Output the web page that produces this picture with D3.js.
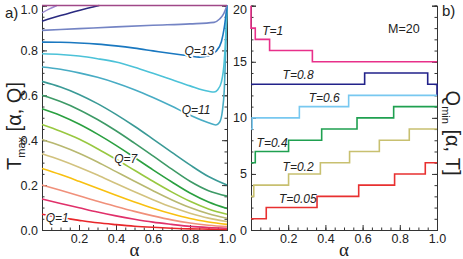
<!DOCTYPE html>
<html><head><meta charset="utf-8">
<script src="https://cdn.jsdelivr.net/npm/d3@7"></script>
<style>
body{margin:0;background:#fff;}
svg{display:block;}
text{font-family:"Liberation Sans",Arial,sans-serif;fill:#222;}
.tick text{font-family:"Liberation Sans Narrow","Liberation Sans",Arial,sans-serif;font-size:12.5px;fill:#222;}
.lbl{font-style:italic;font-size:12px;}
</style></head>
<body><svg id="c" width="463" height="259"></svg>
<script>
// ---------- DATA ----------
const alphaGrid = [0, 0.1, 0.2, 0.3, 0.4, 0.5, 0.6, 0.7, 0.8, 0.9, 1.0];
const tmaxQ1  = [0.070,0.055,0.043,0.032,0.024,0.017,0.012,0.008,0.005,0.004,0.003];
const tmaxQ2  = [0.138,0.118,0.099,0.080,0.063,0.048,0.035,0.025,0.016,0.011,0.008];
const tmaxQ3  = [0.200,0.177,0.153,0.128,0.105,0.083,0.063,0.045,0.031,0.021,0.015];
const tmaxQ4  = [0.274,0.247,0.217,0.186,0.155,0.125,0.097,0.072,0.051,0.036,0.025];
const tmaxQ5  = [0.340,0.312,0.280,0.245,0.207,0.170,0.135,0.102,0.075,0.053,0.038];
const tmaxQ6  = [0.403,0.375,0.342,0.303,0.260,0.217,0.175,0.135,0.100,0.072,0.052];
const tmaxQ7  = [0.470,0.440,0.405,0.362,0.315,0.266,0.217,0.170,0.128,0.094,0.070];
const tmaxQ8  = [0.540,0.510,0.472,0.427,0.377,0.323,0.268,0.215,0.165,0.125,0.096];
const tmaxQ9  = [0.600,0.572,0.536,0.492,0.442,0.387,0.330,0.272,0.217,0.175,0.151];
const tmaxQ10 = [0.662,0.637,0.604,0.563,0.515,0.462,0.405,0.347,0.290,0.238,0.200];
// curves with a hook near alpha = 1
const alphaQ11 = [0,0.1,0.2,0.3,0.4,0.5,0.6,0.7,0.8,0.9,0.94,0.96,0.975,0.985,0.993,1.0];
const tmaxQ11  = [0.726,0.716,0.700,0.680,0.655,0.625,0.590,0.552,0.512,0.478,0.468,0.48,0.53,0.62,0.80,1.0];
const alphaQ12 = [0,0.1,0.2,0.3,0.4,0.5,0.6,0.7,0.8,0.9,0.93,0.95,0.97,0.985,0.995,1.0];
const tmaxQ12  = [0.785,0.782,0.775,0.763,0.748,0.725,0.698,0.670,0.642,0.618,0.615,0.625,0.66,0.75,0.90,1.0];
const alphaQ13 = [0,0.1,0.2,0.3,0.4,0.5,0.6,0.7,0.8,0.85,0.9,0.94,0.97,0.985,1.0];
const tmaxQ13  = [0.837,0.836,0.833,0.828,0.820,0.810,0.798,0.786,0.775,0.770,0.776,0.795,0.84,0.90,1.0];
const alphaQ14 = [0,0.2,0.4,0.6,0.8,0.93,0.96,0.98,1.0];
const tmaxQ14  = [0.889,0.897,0.905,0.912,0.918,0.925,0.94,0.96,1.0];
const alphaQ15 = [0,0.1,0.2,0.31];
const tmaxQ15  = [0.930,0.955,0.978,1.0];
const alphaQ16 = [0,0.04,0.08];
const tmaxQ16  = [0.967,0.985,1.0];
const alphaQ17 = [0,1];
const tmaxQ17  = [1.0,1.0];
const qColors = ["#e8262a","#e0306a","#f0907a","#f8c010","#d2c27e","#b8b870","#98c840",
                 "#2aa040","#3d9a66","#3a9a96","#48acc4","#4cc2d8","#1a78c0","#7484c4",
                 "#2a2a80","#9a88d0","#a04888"];
const qLabels = [{t:"Q=1",a:0.02,v:0.035},{t:"Q=7",a:0.39,v:0.298},{t:"Q=11",a:0.755,v:0.515},{t:"Q=13",a:0.77,v:0.78}];

// right panel: step functions Q_min[alpha,T]
const tLevels = ["T=1","T=0.8","T=0.6","T=0.4","T=0.2","T=0.05"];
const stepAlphas = [
  [0,0,0.023,0.10,0.33,1],
  [0,0.611,0.95,1,1],
  [0,0.006,0.26,0.525,1],
  [0,0.023,0.202,0.38,0.57,0.767,1],
  [0,0.015,0.202,0.373,0.53,0.69,0.851,1],
  [0,0.082,0.355,0.579,0.772,0.937,1]
];
const stepQ = [
  [20,18,17,16,15,15],
  [13,14,13,13,12],
  [9,10,11,12,12],
  [6,7,8,9,10,11,11],
  [3,4,5,6,7,8,9,9],
  [1,2,3,4,5,6,6]
];
const tColors = ["#e8308a","#22228a","#78c8f0","#1fa050","#c8c070","#e83030"];
const tLabelPos = [{a:0.06,v:17.4},{a:0.17,v:13.5},{a:0.31,v:11.4},{a:0.03,v:7.4},{a:0.17,v:5.3},{a:0.15,v:2.4}];
const xTicks = [0.2,0.4,0.6,0.8,1.0];
const yTicksL = [0,0.2,0.4,0.6,0.8,1.0];
const yTicksR = [0,5,10,15,20];

// ---------- DRAW ----------
const svg = d3.select("#c");
const L = {x0:42, x1:227, y0:230, y1:5.5};
const R = {x0:251, x1:437, y0:230, y1:5.7};
const xL = d3.scaleLinear().domain([0,1]).range([L.x0,L.x1]);
const yL = d3.scaleLinear().domain([0,1]).range([L.y0,L.y1]);
const xR = d3.scaleLinear().domain([0,1]).range([R.x0,R.x1]);
const yR = d3.scaleLinear().domain([0,20]).range([R.y0,R.y1]);

const minor = (a,b,s)=>d3.range(a,b+1e-9,s).map(v=>+v.toFixed(4));

function frame(g, xs, ys, yt, ymin, yfmt, X, Y){
  g.append("g").attr("transform",`translate(0,${Y.y0})`)
    .call(d3.axisBottom(xs).tickValues(minor(0,1,0.05)).tickSize(-2.5).tickFormat(""));
  g.append("g").attr("transform",`translate(0,${Y.y0})`)
    .call(d3.axisBottom(xs).tickValues([0].concat(xTicks)).tickSize(-5).tickPadding(4)
      .tickFormat(d=>d===0?"":d3.format(".1f")(d)));
  g.append("g").attr("transform",`translate(${X.x0},0)`)
    .call(d3.axisLeft(ys).tickValues(ymin).tickSize(-2.5).tickFormat(""));
  const ya = g.append("g").attr("transform",`translate(${X.x0},0)`)
    .call(d3.axisLeft(ys).tickValues(yt).tickSize(-5).tickPadding(4).tickFormat(yfmt));
  // keep the top label inside the picture
  ya.selectAll(".tick").filter(d=>d===yt[yt.length-1]).select("text").attr("dy","0.6em");
  g.append("g").attr("transform",`translate(${X.x1},0)`)
    .call(d3.axisRight(ys).tickValues(ymin).tickSize(-2.5).tickFormat(""));
  g.append("g").attr("transform",`translate(${X.x1},0)`)
    .call(d3.axisRight(ys).tickValues(yt).tickSize(-5).tickFormat(""));
  g.selectAll(".domain").attr("stroke","#333").attr("stroke-width",1);
  g.selectAll(".tick line").attr("stroke","#333");
}

const gL = svg.append("g");
frame(gL, xL, yL, yTicksL, minor(0,1,0.05), d3.format(".1f"), L, L);

const curves = [
  [alphaGrid,tmaxQ1],[alphaGrid,tmaxQ2],[alphaGrid,tmaxQ3],[alphaGrid,tmaxQ4],[alphaGrid,tmaxQ5],
  [alphaGrid,tmaxQ6],[alphaGrid,tmaxQ7],[alphaGrid,tmaxQ8],[alphaGrid,tmaxQ9],[alphaGrid,tmaxQ10],
  [alphaQ11,tmaxQ11],[alphaQ12,tmaxQ12],[alphaQ13,tmaxQ13],[alphaQ14,tmaxQ14],[alphaQ15,tmaxQ15],
  [alphaQ16,tmaxQ16],[alphaQ17,tmaxQ17]
];
const lineL = d3.line().x(d=>xL(d[0])).y(d=>yL(d[1])).curve(d3.curveMonotoneX);
curves.forEach((c,i)=>{
  const pts = c[0].map((a,j)=>[a,c[1][j]]);
  gL.append("path").attr("d",lineL(pts)).attr("fill","none")
    .attr("stroke",qColors[i]).attr("stroke-width",1.6);
});
qLabels.forEach(l=>{
  gL.append("text").attr("class","lbl").attr("x",xL(l.a)).attr("y",yL(l.v))
    .attr("stroke","#fff").attr("stroke-width",3).attr("paint-order","stroke")
    .text(l.t);
});

const gR = svg.append("g");
frame(gR, xR, yR, yTicksR, d3.range(0,21,1), d3.format("d"), R, R);
const lineR = d3.line().x(d=>xR(d[0])).y(d=>yR(d[1])).curve(d3.curveStepAfter);
stepQ.forEach((qs,i)=>{
  const pts = stepAlphas[i].map((a,j)=>[a,qs[j]]);
  gR.append("path").attr("d",lineR(pts)).attr("fill","none")
    .attr("stroke",tColors[i]).attr("stroke-width",1.6);
});
tLevels.forEach((t,i)=>{
  gR.append("text").attr("class","lbl").attr("x",xR(tLabelPos[i].a)).attr("y",yR(tLabelPos[i].v)).text(t);
});
gR.append("text").attr("x",388).attr("y",33).style("font-size","12.5px").text("M=20");

// axis titles
svg.append("text").attr("x",xL(0.5)).attr("y",256).attr("text-anchor","middle")
  .style("font-family","'Liberation Serif',serif").style("font-size","19px").text("α");
svg.append("text").attr("x",xR(0.5)).attr("y",256).attr("text-anchor","middle")
  .style("font-family","'Liberation Serif',serif").style("font-size","19px").text("α");

const ty = svg.append("text").attr("transform","translate(21,126) rotate(-90)")
  .attr("text-anchor","middle").style("font-size","20px");
ty.append("tspan").text("T");
ty.append("tspan").attr("dy",4).style("font-size","11px").text("max");
ty.append("tspan").attr("dy",-4).text(" [α, Q]");

const tq = svg.append("text").attr("transform","translate(446,133) rotate(90)")
  .attr("text-anchor","middle").style("font-size","20px");
tq.append("tspan").text("Q");
tq.append("tspan").attr("dy",4).style("font-size","11px").text("min");
tq.append("tspan").attr("dy",-4).text(" [α, T]");

svg.append("text").attr("x",5).attr("y",18).style("font-size","15px").text("a)");
svg.append("text").attr("x",442).attr("y",16).style("font-size","15px").text("b)");
</script></body></html>
